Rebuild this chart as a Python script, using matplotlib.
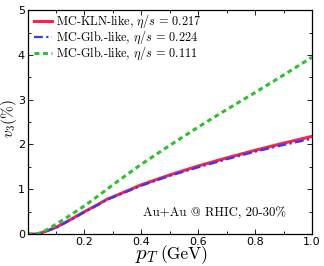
import matplotlib
matplotlib.use("Agg")
import matplotlib.pyplot as plt
from matplotlib.ticker import MultipleLocator

plt.rcParams['mathtext.fontset'] = 'cm'
plt.rcParams['font.family'] = ['DejaVu Sans']

pt_red = [0.0, 0.03, 0.05, 0.1, 0.15, 0.2, 0.25, 0.28, 0.3, 0.4, 0.5, 0.6, 0.7, 0.8, 0.9, 1.0]
v3_red = [0.0, 0.0, 0.03, 0.15, 0.32, 0.5, 0.67, 0.78, 0.83, 1.1, 1.32, 1.52, 1.7, 1.87, 2.03, 2.18]

pt_blue = [0.0, 0.03, 0.05, 0.1, 0.15, 0.2, 0.25, 0.28, 0.3, 0.4, 0.5, 0.6, 0.7, 0.8, 0.9, 1.0]
v3_blue = [0.0, 0.0, 0.03, 0.14, 0.31, 0.49, 0.66, 0.77, 0.82, 1.08, 1.3, 1.49, 1.67, 1.84, 1.99, 2.13]

pt_green = [0.0, 0.03, 0.05, 0.1, 0.15, 0.2, 0.25, 0.3, 0.4, 0.5, 0.6, 0.7, 0.8, 0.9, 1.0]
v3_green = [0.0, 0.0, 0.03, 0.22, 0.42, 0.63, 0.86, 1.1, 1.56, 1.98, 2.39, 2.78, 3.16, 3.55, 3.95]

labels = [r"MC-KLN-like, $\eta/s\,=\,0.217$",
          r"MC-Glb.-like, $\eta/s\,=\,0.224$",
          r"MC-Glb.-like, $\eta/s\,=\,0.111$"]

fig = plt.figure(figsize=(3.24, 2.66), dpi=100)
ax = fig.add_axes([0.085, 0.12, 0.878, 0.842])

ax.plot(pt_red, v3_red, color='#ff1f4b', lw=2.2, ls='-', label=labels[0])
ax.plot(pt_blue, v3_blue, color='#2b3cff', lw=1.6, ls=(0, (4, 1.5, 1, 1.5)), label=labels[1])
ax.plot(pt_green, v3_green, color='#2fc02f', lw=2.2, ls=(0, (1.6, 1.2)), label=labels[2])

ax.set_xlim(0, 1.0)
ax.set_ylim(0, 5)
ax.xaxis.set_minor_locator(MultipleLocator(0.1))
ax.yaxis.set_major_locator(MultipleLocator(1))
ax.yaxis.set_minor_locator(MultipleLocator(0.5))
ax.set_xticks([0.2, 0.4, 0.6, 0.8, 1.0])
ax.set_xticklabels(['0.2', '0.4', '0.6', '0.8', '1.0'])
ax.tick_params(which='both', direction='in', top=True, right=True, labelsize=8, pad=2)
ax.tick_params(which='major', length=3.5, width=0.6)
ax.tick_params(which='minor', length=2, width=0.6)
for s in ax.spines.values():
    s.set_linewidth(0.9)

leg = ax.legend(loc='upper left', frameon=False, handlelength=1.5,
                handletextpad=0.3, labelspacing=-0.1, borderaxespad=0.0,
                bbox_to_anchor=(0.005, 1.01),
                prop={'family': ['cmr10', 'DejaVu Serif'], 'size': 8.8})

ax.text(0.907, 0.093, 'Au+Au @ RHIC, 20-30%', transform=ax.transAxes, ha='right', va='center',
        fontsize=9.2, family=['cmr10', 'DejaVu Serif'])

fig.text(0.028, 0.553, r'$v_3(\%)$', rotation=90, ha='center', va='center', fontsize=11)
fig.text(0.49, 0.025, r'$p_T$', ha='right', va='baseline', fontsize=15)
fig.text(0.494, 0.025, '(GeV)', ha='left', va='baseline', fontsize=12.5, family=['cmr10', 'DejaVu Serif'])

fig.savefig('out.png', dpi=100)
